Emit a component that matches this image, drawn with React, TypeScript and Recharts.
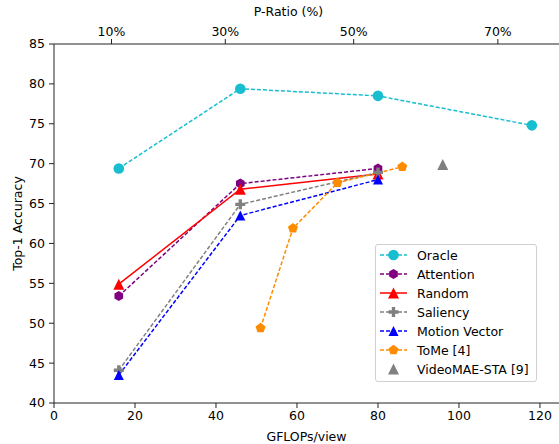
import React from 'react';
import { ComposedChart, Line, Scatter, XAxis, YAxis, Legend } from 'recharts';

// GFLOPs/view per point
const gflops3 = [16, 46, 80];
const oracleGflops = [16, 46, 80, 118];
const tomeGflops = [51, 59, 70, 86];
const staGflops = [96];

// Top-1 accuracy
const oracleAcc = [69.4, 79.4, 78.5, 74.8];
const attentionAcc = [53.4, 67.5, 69.4];
const randomAcc = [54.9, 66.8, 68.7];
const saliencyAcc = [44.1, 64.9, 68.9];
const motionAcc = [43.5, 63.5, 68.0];
const tomeAcc = [49.4, 61.9, 67.6, 69.6];
const staAcc = [69.9];

// top axis: P-Ratio ticks placed at their GFLOPs position
const pRatioGflops = [14.2, 42.3, 74.0, 109.6];
const pRatioLabels = ['10%', '30%', '50%', '70%'];

const yTicks = [40, 45, 50, 55, 60, 65, 70, 75, 80, 85];
const xTicks = [0, 20, 40, 60, 80, 100, 120];

const FONT = 'DejaVu Sans, sans-serif';
const AXIS = '#222';
const X_DOMAIN: [number, number] = [0, 124.7];

type Shape = 'circle' | 'hexagon' | 'triangle' | 'plus' | 'pentagon';

const toPoints = (xs: number[], ys: number[]) => xs.map((x, i) => ({ gflops: x, acc: ys[i] }));

const series = [
  { name: 'Oracle', data: toPoints(oracleGflops, oracleAcc), color: '#17becf', shape: 'circle' as Shape, size: 5.3, dash: '4 2' },
  { name: 'Attention', data: toPoints(gflops3, attentionAcc), color: '#800080', shape: 'hexagon' as Shape, size: 5, dash: '4 2' },
  { name: 'Random', data: toPoints(gflops3, randomAcc), color: '#ff0000', shape: 'triangle' as Shape, size: 5.5, dash: undefined },
  { name: 'Saliency', data: toPoints(gflops3, saliencyAcc), color: '#808080', shape: 'plus' as Shape, size: 5, dash: '4 2' },
  { name: 'Motion Vector', data: toPoints(gflops3, motionAcc), color: '#0000ff', shape: 'triangle' as Shape, size: 5, dash: '4 2' },
  { name: 'ToMe [4]', data: toPoints(tomeGflops, tomeAcc), color: '#ff8c00', shape: 'pentagon' as Shape, size: 5, dash: '4 2' },
];

const sta = { name: 'VideoMAE-STA [9]', data: toPoints(staGflops, staAcc), color: '#808080', shape: 'triangle' as Shape, size: 5.5 };

function polygon(cx: number, cy: number, r: number, n: number) {
  const pts: string[] = [];
  for (let k = 0; k < n; k++) {
    const a = (-90 + (360 / n) * k) * (Math.PI / 180);
    pts.push(`${cx + r * Math.cos(a)},${cy + r * Math.sin(a)}`);
  }
  return pts.join(' ');
}

function Marker({ cx, cy, shape, color, size }: { cx: number; cy: number; shape: Shape; color: string; size: number }) {
  if (cx == null || cy == null) return null;
  const s = size;
  switch (shape) {
    case 'circle':
      return <circle cx={cx} cy={cy} r={s} fill={color} />;
    case 'hexagon':
      return <polygon points={polygon(cx, cy, s, 6)} fill={color} />;
    case 'pentagon':
      return <polygon points={polygon(cx, cy, s * 1.05, 5)} fill={color} />;
    case 'triangle':
      return <polygon points={`${cx},${cy - s} ${cx - s},${cy + s} ${cx + s},${cy + s}`} fill={color} />;
    case 'plus': {
      const t = s / 3;
      const pts = [
        [-t, -s], [t, -s], [t, -t], [s, -t], [s, t], [t, t],
        [t, s], [-t, s], [-t, t], [-s, t], [-s, -t], [-t, -t],
      ].map(([dx, dy]) => `${cx + dx},${cy + dy}`).join(' ');
      return <polygon points={pts} fill={color} />;
    }
  }
  return null;
}

function LegendBox() {
  const all = [...series, { ...sta, dash: 'none' }];
  return (
    <div
      style={{
        width: 162,
        height: 138,
        boxSizing: 'border-box',
        border: '1px solid #d0d0d0',
        borderRadius: 3,
        background: 'rgba(255,255,255,0.85)',
      }}
    >
      <svg width={160} height={136} style={{ display: 'block' }}>
        {all.map((s, i) => {
          const y = 10 + i * 19;
          return (
            <g key={s.name}>
              {s.dash !== 'none' && (
                <line x1={4} x2={31} y1={y} y2={y} stroke={s.color} strokeWidth={1.5} strokeDasharray={s.dash} />
              )}
              <Marker cx={17.5} cy={y} shape={s.shape} color={s.color} size={s.size} />
              <text x={41} y={y} dominantBaseline="central" fontSize={12.5} fontFamily={FONT} fill="#000">
                {s.name}
              </text>
            </g>
          );
        })}
      </svg>
    </div>
  );
}

export default function App() {
  return (
    <div style={{ position: 'absolute', left: 0, top: 0, fontFamily: FONT }}>
      <ComposedChart width={559} height={444} margin={{ top: 0, right: 0, bottom: 0, left: 0 }}>
        <XAxis
          xAxisId="gflops"
          dataKey="gflops"
          type="number"
          domain={X_DOMAIN}
          allowDataOverflow
          ticks={xTicks}
          interval={0}
          height={41}
          stroke={AXIS}
          tickSize={5}
          tickMargin={3}
          tick={{ fill: '#000', fontSize: 12.5, fontFamily: FONT }}
          label={{ value: 'GFLOPs/view', position: 'insideBottom', offset: 3, fill: '#000', fontSize: 12.5, fontFamily: FONT }}
        />
        <XAxis
          xAxisId="pratio"
          dataKey="gflops"
          orientation="top"
          type="number"
          domain={X_DOMAIN}
          allowDataOverflow
          ticks={pRatioGflops}
          interval={0}
          height={44}
          stroke={AXIS}
          tickSize={5}
          tickMargin={3}
          tickFormatter={(v: number) => {
            const i = pRatioGflops.findIndex((g) => Math.abs(g - v) < 1e-6);
            return i >= 0 ? pRatioLabels[i] : '';
          }}
          tick={{ fill: '#000', fontSize: 12.5, fontFamily: FONT }}
          label={{ value: 'P-Ratio (%)', position: 'insideTop', offset: 7, dx: -18, fill: '#000', fontSize: 12.5, fontFamily: FONT }}
        />
        <YAxis
          dataKey="acc"
          type="number"
          domain={[40, 85]}
          ticks={yTicks}
          interval={0}
          width={54}
          stroke={AXIS}
          tickSize={5}
          tickMargin={4}
          tick={{ fill: '#000', fontSize: 12.5, fontFamily: FONT }}
          label={{ value: 'Top-1 Accuracy', angle: -90, position: 'center', dx: -9, fill: '#000', fontSize: 12.5, fontFamily: FONT }}
        />
        {series.map((s) => (
          <Line
            key={s.name}
            xAxisId="gflops"
            data={s.data}
            dataKey="acc"
            name={s.name}
            stroke={s.color}
            strokeWidth={1.5}
            strokeDasharray={s.dash}
            isAnimationActive={false}
            dot={(p: any) => (
              <Marker key={`${s.name}-${p.index}`} cx={p.cx} cy={p.cy} shape={s.shape} color={s.color} size={s.size} />
            )}
            activeDot={false}
          />
        ))}
        {/* the lone STA point sits on the top axis (same domain), which keeps that axis populated */}
        <Scatter
          xAxisId="pratio"
          data={sta.data}
          dataKey="acc"
          name={sta.name}
          fill={sta.color}
          isAnimationActive={false}
          shape={(p: any) => <Marker cx={p.cx} cy={p.cy} shape={sta.shape} color={sta.color} size={sta.size} />}
        />
        <Legend
          layout="horizontal"
          verticalAlign="middle"
          align="center"
          wrapperStyle={{ left: 375, top: 244, width: 162, height: 138 }}
          content={() => <LegendBox />}
        />
      </ComposedChart>
    </div>
  );
}
